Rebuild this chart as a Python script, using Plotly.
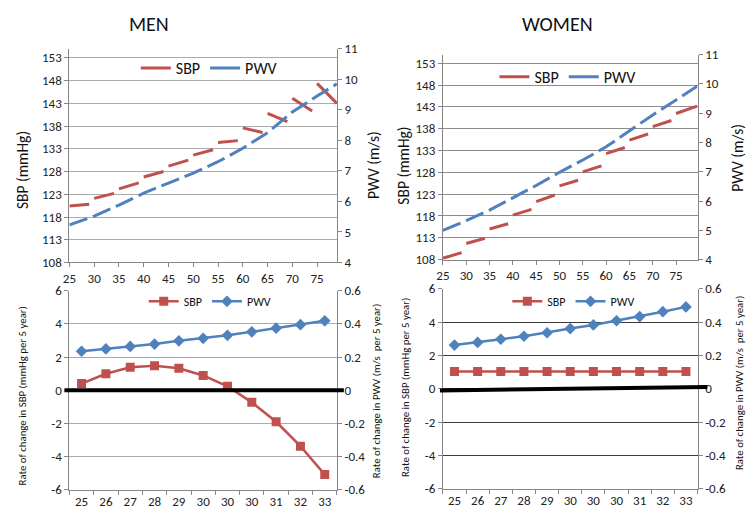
import plotly.graph_objects as go

# ── Data ────────────────────────────────────────────────────────────────────
# Top panels: SBP is drawn per 5-year age group (start / end of each group)
group_from = [25, 30, 35, 40, 45, 50, 55, 60, 65, 70, 75]
men_group_to = [29, 34, 39, 44, 49, 54, 59, 64, 69, 74, 79]
women_group_to = [29, 34, 39, 44, 49, 54, 59, 64, 69, 74, 79.5]

men_sbp_from = [120.4, 122.1, 124.2, 126.8, 129.2, 131.6, 134.4, 137.6, 140.8, 144.1, 147.4]
men_sbp_to = [120.8, 123.2, 125.5, 128.0, 130.5, 132.8, 134.8, 136.6, 139.0, 141.3, 143.0]
women_sbp_from = [108.3, 111.7, 115.0, 118.2, 121.3, 124.9, 128.1, 132.3, 135.4, 138.5, 141.5]
women_sbp_to = [109.6, 112.9, 116.2, 119.5, 122.8, 126.2, 129.5, 133.7, 136.8, 139.9, 143.2]

men_pwv_age = [25, 30, 35, 40, 45, 50, 55, 60, 65, 70, 75, 79]
men_pwv = [5.23, 5.52, 5.88, 6.27, 6.60, 6.93, 7.30, 7.74, 8.25, 8.93, 9.45, 9.85]
women_pwv_age = [25, 30, 35, 40, 45, 50, 55, 60, 65, 70, 75, 79.5]
women_pwv = [5.00, 5.33, 5.69, 6.11, 6.53, 6.98, 7.40, 7.85, 8.40, 8.94, 9.45, 9.92]

age_ticks = [25, 30, 35, 40, 45, 50, 55, 60, 65, 70, 75]
sbp_ticks = [108, 113, 118, 123, 128, 133, 138, 143, 148, 153]
pwv_ticks = [4, 5, 6, 7, 8, 9, 10, 11]

# Bottom panels: rate of change per 5 years
rate_labels = ['25', '26', '27', '28', '29', '30', '30', '30', '31', '32', '33']
men_sbp_rate = [0.40, 0.99, 1.38, 1.47, 1.32, 0.89, 0.24, -0.73, -1.90, -3.37, -5.08]
men_pwv_rate = [0.235, 0.249, 0.264, 0.278, 0.298, 0.313, 0.331, 0.352, 0.374, 0.395, 0.418]
women_sbp_rate = [1.04, 1.04, 1.04, 1.04, 1.04, 1.04, 1.04, 1.04, 1.04, 1.04, 1.04]
women_pwv_rate = [0.262, 0.278, 0.297, 0.315, 0.336, 0.361, 0.383, 0.408, 0.433, 0.462, 0.491]

rate_sbp_ticks = [-6, -4, -2, 0, 2, 4, 6]
rate_sbp_text = ['-6', '-4', '-2', '0', '2', '4', '6']
rate_pwv_ticks = [-0.6, -0.4, -0.2, 0, 0.2, 0.4, 0.6]
rate_pwv_text = ['-0.6', '-0.4', '-0.2', '0', '0.2', '0.4', '0.6']

# ── Style ───────────────────────────────────────────────────────────────────
W, H = 754, 525
FONT = "Calibri, Carlito, 'Liberation Sans Narrow', 'Liberation Sans', sans-serif"
RED = '#C0504D'
BLUE = '#4F81BD'
AXIS = '#868686'


def px_x(p):
    return p / W


def px_y(p):
    return 1 - p / H


def segments(x0, x1, y0, y1):
    xs, ys = [], []
    for a, b, c, d in zip(x0, x1, y0, y1):
        xs += [a, b, None]
        ys += [c, d, None]
    return xs, ys


fig = go.Figure()

# ── Top panels ──────────────────────────────────────────────────────────────
top = [
    ('x', 'y', 'y2', 'legend', group_from, men_group_to, men_sbp_from, men_sbp_to,
     men_pwv_age, men_pwv),
    ('x2', 'y3', 'y4', 'legend2', group_from, women_group_to, women_sbp_from, women_sbp_to,
     women_pwv_age, women_pwv),
]
for xa, ya, yb, lg, gf, gt, sf, st, pa, pv in top:
    sx, sy = segments(gf, gt, sf, st)
    fig.add_trace(go.Scatter(x=sx, y=sy, xaxis=xa, yaxis=ya, mode='lines',
                             line=dict(color=RED, width=3), connectgaps=False,
                             name='SBP', legend=lg))
    fig.add_trace(go.Scatter(x=pa, y=pv, xaxis=xa, yaxis=yb, mode='lines',
                             line=dict(color=BLUE, width=3, dash='19px,6px'),
                             showlegend=False))
    # legend-only entry with a solid sample
    fig.add_trace(go.Scatter(x=[None], y=[None], xaxis=xa, yaxis=yb, mode='lines',
                             line=dict(color=BLUE, width=3), name='PWV', legend=lg))

# ── Bottom panels ───────────────────────────────────────────────────────────
idx = list(range(len(rate_labels)))
bottom = [
    ('x3', 'y5', 'y6', 'legend3', men_sbp_rate, men_pwv_rate),
    ('x4', 'y7', 'y8', 'legend4', women_sbp_rate, women_pwv_rate),
]
for xa, ya, yb, lg, sr, pr in bottom:
    fig.add_trace(go.Scatter(x=idx, y=sr, xaxis=xa, yaxis=ya, mode='lines+markers',
                             line=dict(color=RED, width=2.5),
                             marker=dict(symbol='square', size=9, color=RED),
                             name='SBP', legend=lg))
    fig.add_trace(go.Scatter(x=idx, y=pr, xaxis=xa, yaxis=yb, mode='lines+markers',
                             line=dict(color=BLUE, width=2.5),
                             marker=dict(symbol='diamond', size=9, color=BLUE),
                             name='PWV', legend=lg))

# ── Axes ────────────────────────────────────────────────────────────────────
tick_font = dict(family=FONT, size=13, color='#222')
dom = {
    'men_top': ([63, 333], [43, 263]),
    'women_top': ([440, 697], [49, 260]),
    'men_bot': ([63, 333], [292, 497]),
    'women_bot': ([440, 697], [290, 496]),
}


def xdom(k):
    a, b = dom[k][0]
    return [px_x(a), px_x(b)]


def ydom(k):
    a, b = dom[k][1]
    return [px_y(b), px_y(a)]


def top_x(k, rng, anchor):
    return dict(domain=xdom(k), range=rng, anchor=anchor, tickvals=age_ticks,
                showline=True, linecolor=AXIS, linewidth=1, ticks='outside',
                ticklen=4, tickcolor=AXIS, showgrid=False, zeroline=False,
                tickfont=tick_font)


def top_yl(k, anchor, grid):
    return dict(domain=ydom(k), range=[108, 155], anchor=anchor, tickvals=sbp_ticks,
                showline=True, linecolor=AXIS, ticks='outside', ticklen=4,
                tickcolor=AXIS, gridcolor=grid, gridwidth=1, zeroline=False,
                tickfont=tick_font)


def top_yr(over, anchor):
    return dict(overlaying=over, side='right', anchor=anchor, range=[4, 11],
                tickvals=pwv_ticks, showline=True, linecolor=AXIS, ticks='outside',
                ticklen=4, tickcolor=AXIS, showgrid=False, zeroline=False,
                tickfont=tick_font)


def bot_x(k, anchor):
    return dict(domain=xdom(k), range=[-0.5, 10.5], anchor=anchor, tickvals=idx,
                ticktext=rate_labels, ticks='', showline=True, linecolor=AXIS,
                showgrid=False, zeroline=False, tickfont=tick_font,
                minor=dict(tick0=-0.5, dtick=1, ticks='outside', ticklen=4,
                           tickcolor=AXIS, showgrid=False))


def bot_yl(k, anchor, grid):
    return dict(domain=ydom(k), range=[-6, 6], anchor=anchor, tickvals=rate_sbp_ticks,
                ticktext=rate_sbp_text, showline=True, linecolor=AXIS, ticks='outside',
                ticklen=4, tickcolor=AXIS, gridcolor=grid, gridwidth=1,
                zeroline=False, tickfont=tick_font)


def bot_yr(over, anchor):
    return dict(overlaying=over, side='right', anchor=anchor, range=[-0.6, 0.6],
                tickvals=rate_pwv_ticks, ticktext=rate_pwv_text, showline=True,
                linecolor=AXIS, ticks='outside', ticklen=4, tickcolor=AXIS,
                showgrid=False, zeroline=False, tickfont=tick_font)


fig.update_layout(
    xaxis=top_x('men_top', [25, 79], 'y'),
    yaxis=top_yl('men_top', 'x', '#ABABAB'),
    yaxis2=top_yr('y', 'x'),
    xaxis2=top_x('women_top', [25, 79.6], 'y3'),
    yaxis3=top_yl('women_top', 'x2', '#8C8C8C'),
    yaxis4=top_yr('y3', 'x2'),
    xaxis3=bot_x('men_bot', 'y5'),
    yaxis5=bot_yl('men_bot', 'x3', '#ABABAB'),
    yaxis6=bot_yr('y5', 'x3'),
    xaxis4=bot_x('women_bot', 'y7'),
    yaxis7=bot_yl('women_bot', 'x4', '#3A3A3A'),
    yaxis8=bot_yr('y7', 'x4'),
)


# ── Legends ─────────────────────────────────────────────────────────────────
def legend_at(x, y, size):
    return dict(x=px_x(x), y=px_y(y), xanchor='left', yanchor='middle',
                orientation='h', bgcolor='rgba(0,0,0,0)', itemwidth=30,
                font=dict(family=FONT, size=size, color='#111'),
                tracegroupgap=0)


fig.update_layout(
    legend=legend_at(130, 63, 16),
    legend2=legend_at(492, 72, 16),
    legend3=legend_at(138, 303, 12),
    legend4=legend_at(505, 303, 12),
)

# ── Zero reference lines in the rate panels ─────────────────────────────────
fig.add_shape(type='line', xref='paper', yref='y5', x0=px_x(58), x1=px_x(340),
              y0=0, y1=0, line=dict(color='black', width=4), layer='above')
fig.add_shape(type='line', xref='paper', yref='y7', x0=px_x(437), x1=px_x(707),
              y0=-0.1, y1=0.1, line=dict(color='black', width=4), layer='above')


# ── Titles ──────────────────────────────────────────────────────────────────
def label(text, x, y, size, angle=0):
    fig.add_annotation(text=text, x=px_x(x), y=px_y(y), xref='paper', yref='paper',
                       showarrow=False, textangle=angle, xanchor='center',
                       yanchor='middle', font=dict(family=FONT, size=size, color='#111'))


label('MEN', 143, 18, 20)
label('WOMEN', 556, 18, 20)
label('SBP (mmHg)', 15, 168, 15.5, -90)
label('PWV (m/s)', 370, 163, 15.5, -90)
label('SBP (mmHg)', 400, 163, 15.5, -90)
label('PWV (m/s)', 737, 155, 15.5, -90)
label('Rate of change in SBP (mmHg per 5 year)', 16, 400, 10.8, -90)
label('Rate of change in PWV (m/s  per 5 year)', 373, 396, 10.8, -90)
label('Rate of change in SBP (mmHg per 5 year)', 403, 392, 10.8, -90)
label('Rate of change in PWV (m/s  per 5 year)', 740, 387, 10.8, -90)

fig.update_layout(
    width=W, height=H,
    margin=dict(l=0, r=0, t=0, b=0),
    paper_bgcolor='white', plot_bgcolor='white',
    font=dict(family=FONT, color='#111'),
)

# page body margin off so the 754x525 figure sits flush in the window
fig.write_html("out.html", config={'displayModeBar': False},
               post_script="document.body.style.margin='0px';")
